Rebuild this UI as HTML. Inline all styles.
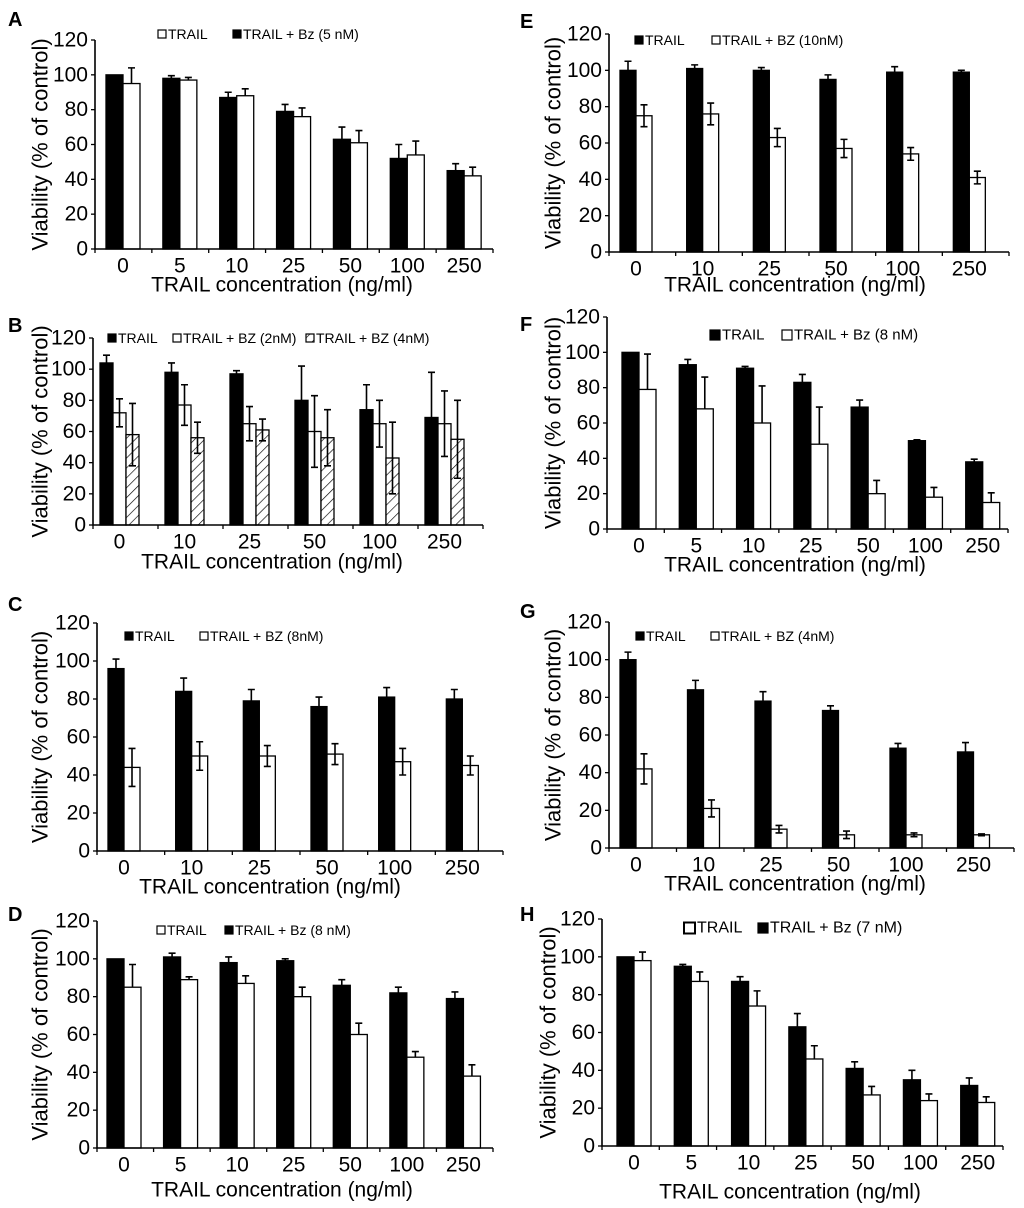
<!DOCTYPE html>
<html><head><meta charset="utf-8">
<style>
html,body{margin:0;padding:0;background:#fff;}
svg{display:block;font-family:"Liberation Sans",Arial,sans-serif;}
</style></head>
<body>
<svg id="fig" width="1024" height="1208" viewBox="0 0 1024 1208" xmlns="http://www.w3.org/2000/svg">
<defs>
<pattern id="hatch" patternUnits="userSpaceOnUse" width="7" height="7" patternTransform="rotate(45)">
<rect width="7" height="7" fill="#fff"/><line x1="0" y1="0" x2="0" y2="7" stroke="#000" stroke-width="1.3"/>
</pattern>
</defs>
</svg>
<script>
// ---- data ----
const catsA=["0","5","10","25","50","100","250"];
const aBlack=[100,98,87,79,63,52,45];
const aBlackErr=[0,1.5,3,4,7,8,4];
const aWhite=[95,97,88,76,61,54,42];
const aWhiteErr=[9,1.5,4,5,7,8,5];

const catsB=["0","10","25","50","100","250"];
const bBlack=[104,98,97,80,74,69];
const bBlackErr=[5,6,2,22,16,29];
const bWhite=[72,77,65,60,65,65];
const bWhiteErr=[9,13,11,23,15,21];
const bHatch=[58,56,61,56,43,55];
const bHatchErr=[20,10,7,18,23,25];

const catsC=["0","10","25","50","100","250"];
const cBlack=[96,84,79,76,81,80];
const cBlackErr=[5,7,6,5,5,5];
const cWhite=[44,50,50,51,47,45];
const cWhiteErr=[10,7.5,5.5,5.5,7,5];

const catsD=["0","5","10","25","50","100","250"];
const dBlack=[100,101,98,99,86,82,79];
const dBlackErr=[0,2,3,1,3,3,3.5];
const dWhite=[85,89,87,80,60,48,38];
const dWhiteErr=[12,1.5,4,5,6,3,6];

const catsE=["0","10","25","50","100","250"];
const eBlack=[100,101,100,95,99,99];
const eBlackErr=[5,2,1.5,2.5,3,1];
const eWhite=[75,76,63,57,54,41];
const eWhiteErr=[6,6,5,5,3.5,3.5];

const catsF=["0","5","10","25","50","100","250"];
const fBlack=[100,93,91,83,69,50,38];
const fBlackErr=[0,3,1,4.5,4,0.5,1.5];
const fWhite=[79,68,60,48,20,18,15];
const fWhiteErr=[20,18,21,21,7.5,5.5,5.5];

const catsG=["0","10","25","50","100","250"];
const gBlack=[100,84,78,73,53,51];
const gBlackErr=[4,5,5,2.5,2.5,5];
const gWhite=[42,21,10,7,7,7];
const gWhiteErr=[8,4.5,2,2,1,0.5];

const catsH=["0","5","10","25","50","100","250"];
const hBlack=[100,95,87,63,41,35,32];
const hBlackErr=[0,1,2.5,7,3.5,5,4];
const hWhite=[98,87,74,46,27,24,23];
const hWhiteErr=[4.5,5,8,7,4.5,3.5,3];

const yTicks=[0,20,40,60,80,100,120];

const svg=document.getElementById('fig');
const NS="http://www.w3.org/2000/svg";
function mk(tag,attrs,parent){const e=document.createElementNS(NS,tag);for(const k in attrs)e.setAttribute(k,attrs[k]);(parent||svg).appendChild(e);return e;}

function panel(p){
  const g=mk('g',{});
  
  
  const y=v=>p.y0-(v/120)*(p.y0-p.y120);
  const n=p.cats.length, gw=(p.xEnd-p.ax)/n;
  const gx=i=>p.ax+i*gw;
  p.series.forEach((s,si)=>{
    s.vals.forEach((v,i)=>{
      const x=gx(i)+p.pad+si*p.bw;
      const r=mk('rect',{x:x,y:y(v),width:p.bw,height:p.y0-y(v),fill:s.fill,stroke:'#000','stroke-width':1.3},g);
      
      
      const e=s.err[i];
      if(e>0){
        const cx=x+p.bw/2;
        const lo=s.two?y(v-e):y(v);
        const l=mk('path',{d:`M${cx},${lo}V${y(v+e)}M${cx-3.5},${y(v+e)}H${cx+3.5}`+(s.two?`M${cx-3.5},${y(v-e)}H${cx+3.5}`:''),stroke:'#000','stroke-width':1.6,fill:'none'},g);
        
        
      }
    });
  });
  const ax=mk('path',{d:`M${p.ax},${p.y120}V${p.y0}H${p.xEnd}`,stroke:'#000','stroke-width':1.6,fill:'none'},g);
  
  
  yTicks.forEach(t=>{
    mk('line',{x1:p.ax-4,x2:p.ax,y1:y(t),y2:y(t),stroke:'#000','stroke-width':1.3},g);
    const tl=mk('text',{x:p.ax-7,y:y(t),'text-anchor':'end','dominant-baseline':'central','font-size':21},g);
    tl.textContent=t;
    
    
  });
  for(let i=0;i<=n;i++) mk('line',{x1:gx(i),x2:gx(i),y1:p.y0,y2:p.y0+4,stroke:'#000','stroke-width':1.3},g);
  p.cats.forEach((c,i)=>{
    const tl=mk('text',{x:gx(i)+p.pad+p.series.length*p.bw/2,y:p.y0+17,'text-anchor':'middle','dominant-baseline':'central','font-size':21},g);
    tl.textContent=c;
    
    
  });
  const xt=mk('text',{x:p.xtX,y:p.xtY,'text-anchor':'middle','dominant-baseline':'central','font-size':21},g);
  xt.textContent='TRAIL concentration (ng/ml)';
  
  
  const ymid=(p.y0+p.y120)/2;
  const yt=mk('text',{x:p.ytX,y:ymid,'text-anchor':'middle','dominant-baseline':'central','font-size':22,transform:`rotate(-90 ${p.ytX} ${ymid})`},g);
  yt.textContent='Viability (% of control)';
  
  
  const lb=mk('text',{x:p.lx,y:p.ly,'dominant-baseline':'central','font-size':20,'font-weight':'bold'},g);
  lb.textContent=p.id;
  
  
  p.legend.forEach(L=>{
    const sz=L.sz||8;
    const sq=mk('rect',{x:L.x,y:p.legY-sz/2,width:sz,height:sz,fill:L.fill,stroke:'#000','stroke-width':L.bold?2:1.2},g);
    
    
    const t=mk('text',{x:L.x+sz+2,y:p.legY,'dominant-baseline':'central','font-size':L.fs||14},g);
    t.textContent=L.text;
    
    
  });
}

panel({id:'A',cats:catsA,ax:95,xEnd:493,y0:249,y120:40,pad:11,bw:17,xtX:282,xtY:285,ytX:40,lx:8,ly:20,legY:34,
  series:[{key:'trail-bz',vals:aBlack,err:aBlackErr,fill:'#000'},{key:'trail',vals:aWhite,err:aWhiteErr,fill:'#fff'}],
  legend:[{x:158,fill:'#fff',text:'TRAIL'},{x:233,fill:'#000',text:'TRAIL + Bz (5 nM)'}]});

panel({id:'B',cats:catsB,ax:93,xEnd:483,y0:525,y120:338,pad:7,bw:13,xtX:272,xtY:562,ytX:40,lx:8,ly:326,legY:338,
  series:[{key:'trail',vals:bBlack,err:bBlackErr,fill:'#000',two:true},{key:'bz2',vals:bWhite,err:bWhiteErr,fill:'#fff',two:true},{key:'bz4',vals:bHatch,err:bHatchErr,fill:'url(#hatch)',two:true}],
  legend:[{x:108,fill:'#000',text:'TRAIL'},{x:173,fill:'#fff',text:'TRAIL + BZ (2nM)'},{x:306,fill:'url(#hatch)',text:'TRAIL + BZ (4nM)'}]});

panel({id:'C',cats:catsC,ax:97,xEnd:503,y0:851,y120:623,pad:11,bw:16,xtX:270,xtY:887,ytX:40,lx:8,ly:605,legY:636,
  series:[{key:'trail',vals:cBlack,err:cBlackErr,fill:'#000'},{key:'trail-bz',vals:cWhite,err:cWhiteErr,fill:'#fff',two:true}],
  legend:[{x:125,fill:'#000',text:'TRAIL'},{x:200,fill:'#fff',text:'TRAIL + BZ (8nM)'}]});

panel({id:'D',cats:catsD,ax:97,xEnd:493,y0:1148,y120:921,pad:10,bw:17,xtX:282,xtY:1190,ytX:40,lx:8,ly:915,legY:930,
  series:[{key:'trail-bz',vals:dBlack,err:dBlackErr,fill:'#000'},{key:'trail',vals:dWhite,err:dWhiteErr,fill:'#fff'}],
  legend:[{x:157,fill:'#fff',text:'TRAIL'},{x:225,fill:'#000',text:'TRAIL + Bz (8 nM)'}]});

panel({id:'E',cats:catsE,ax:609,xEnd:1009,y0:252,y120:34,pad:11,bw:16,xtX:795,xtY:285,ytX:553,lx:520,ly:22,legY:40,
  series:[{key:'trail',vals:eBlack,err:eBlackErr,fill:'#000'},{key:'trail-bz',vals:eWhite,err:eWhiteErr,fill:'#fff',two:true}],
  legend:[{x:635,fill:'#000',text:'TRAIL'},{x:712,fill:'#fff',text:'TRAIL + BZ (10nM)'}]});

panel({id:'F',cats:catsF,ax:607,xEnd:1008,y0:529,y120:317,pad:15,bw:17,xtX:795,xtY:565,ytX:553,lx:520,ly:325,legY:335,
  series:[{key:'trail',vals:fBlack,err:fBlackErr,fill:'#000'},{key:'trail-bz',vals:fWhite,err:fWhiteErr,fill:'#fff'}],
  legend:[{x:710,fill:'#000',text:'TRAIL',sz:10,fs:15},{x:782,fill:'#fff',text:'TRAIL + Bz (8 nM)',sz:10,fs:15}]});

panel({id:'G',cats:catsG,ax:609,xEnd:1014,y0:848,y120:622,pad:11,bw:16,xtX:795,xtY:884,ytX:553,lx:520,ly:612,legY:636,
  series:[{key:'trail',vals:gBlack,err:gBlackErr,fill:'#000'},{key:'trail-bz',vals:gWhite,err:gWhiteErr,fill:'#fff',two:true}],
  legend:[{x:636,fill:'#000',text:'TRAIL'},{x:711,fill:'#fff',text:'TRAIL + BZ (4nM)'}]});

panel({id:'H',cats:catsH,ax:602,xEnd:1003,y0:1146,y120:919,pad:15,bw:17,xtX:790,xtY:1192,ytX:548,lx:520,ly:915,legY:928,
  series:[{key:'trail-bz',vals:hBlack,err:hBlackErr,fill:'#000'},{key:'trail',vals:hWhite,err:hWhiteErr,fill:'#fff'}],
  legend:[{x:684,fill:'#fff',text:'TRAIL',sz:11,fs:16,bold:true},{x:758,fill:'#000',text:'TRAIL + Bz (7 nM)',sz:10,fs:16}]});
</script>
</body></html>
